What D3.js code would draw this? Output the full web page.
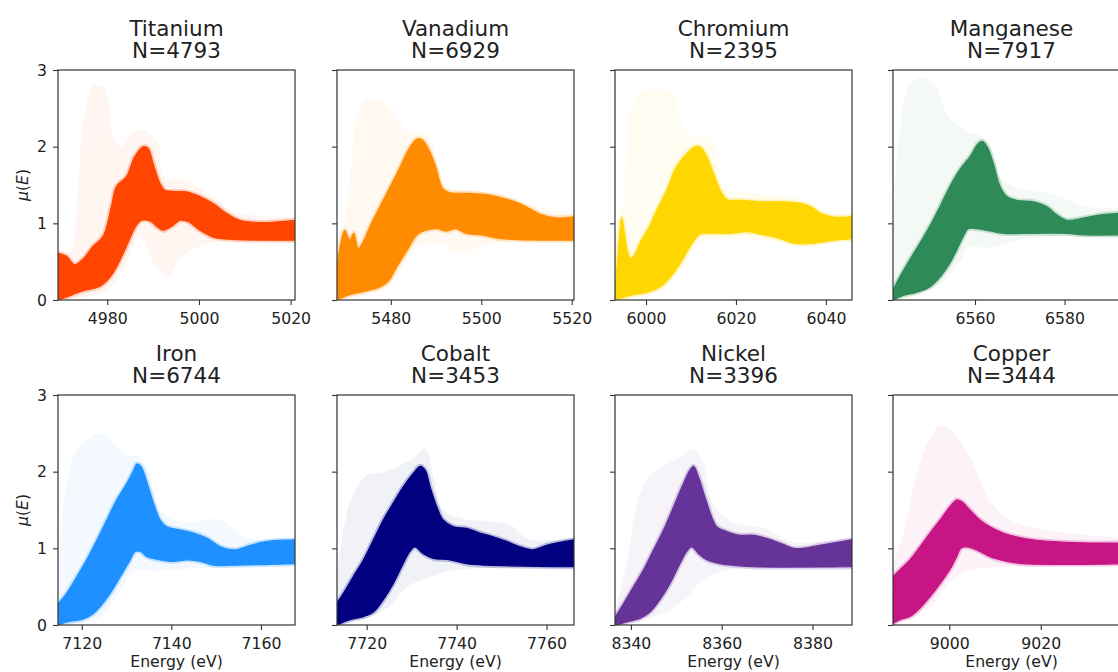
<!DOCTYPE html>
<html>
<head>
<meta charset="utf-8">
<script src="https://cdn.jsdelivr.net/npm/d3@7"></script>
<style>
  body { margin: 0; background: #fff; }
  svg { display: block; }
  text { font-family: "DejaVu Sans", sans-serif; fill: #222; }
</style>
</head>
<body>
<script>
// ---------------- DATA ----------------
const elements = ["Titanium", "Vanadium", "Chromium", "Manganese", "Iron", "Cobalt", "Nickel", "Copper"];
const counts = [4793, 6929, 2395, 7917, 6744, 3453, 3396, 3444];
const colors = ["#FF4500", "#FF8C00", "#FFD700", "#2E8B57", "#1E90FF", "#000080", "#663399", "#C71585"];
const xDomains = [[4969.25, 5020.95], [5468.1, 5520.5], [5993.1, 6045.8], [6541.7, 6594.6],
                  [7114.7, 7167.6], [7713.4, 7766.1], [8336.5, 8388.7], [8987.7, 9039.5]];
const xTicks = [[4980, 5000, 5020], [5480, 5500, 5520], [6000, 6020, 6040], [6560, 6580],
                [7120, 7140, 7160], [7720, 7740, 7760], [8340, 8360, 8380], [9000, 9020]];
const yTicks = [0, 1, 2, 3];

// dense core of the spectra: upper / lower edge  [energy (eV), mu(E)]
const titaniumUpper = [[4969.3,0.61],[4971.1,0.57],[4972.9,0.46],[4974.8,0.54],[4976.9,0.70],[4979.1,0.83],[4980.9,1.22],[4982.0,1.48],[4984.2,1.61],[4986.0,1.87],[4987.9,2.0],[4988.9,1.98],[4990.0,1.78],[4991.5,1.52],[4992.6,1.43],[4997.3,1.41],[5000.2,1.35],[5003.1,1.26],[5006.0,1.13],[5008.9,1.04],[5013.3,1.01],[5021,1.04]];
const titaniumLower = [[4969.3,0],[4971.1,0.04],[4974.8,0.12],[4978.4,0.18],[4980.6,0.30],[4982.0,0.43],[4983.5,0.61],[4984.9,0.80],[4986.4,0.98],[4987.5,1.04],[4989.3,1.03],[4990.8,0.96],[4992.2,0.91],[4994.0,0.96],[4995.9,1.04],[4997.7,1.02],[5000.2,0.91],[5003.1,0.82],[5007.5,0.79],[5021,0.78]];
const vanadiumUpper = [[5467.9,0.35],[5468.8,0.70],[5469.8,0.91],[5470.9,0.78],[5471.8,0.87],[5472.8,0.67],[5473.9,0.76],[5475.4,0.96],[5477.6,1.22],[5479.9,1.48],[5482.1,1.74],[5484.3,2.0],[5485.8,2.10],[5486.9,2.09],[5488.4,1.96],[5489.9,1.74],[5491.4,1.46],[5492.9,1.40],[5497.0,1.39],[5501.5,1.37],[5504.5,1.33],[5507.5,1.28],[5510.4,1.20],[5513.4,1.11],[5516.4,1.07],[5521,1.09]];
const vanadiumLower = [[5467.9,0],[5470.9,0.07],[5474.6,0.12],[5477.6,0.17],[5479.5,0.25],[5481.3,0.43],[5483.6,0.65],[5485.8,0.85],[5487.7,0.91],[5490.3,0.93],[5492.2,0.90],[5494.4,0.93],[5496.6,0.87],[5500.0,0.85],[5504.5,0.80],[5521,0.78]];
const chromiumUpper = [[5993.1,0.09],[5993.8,0.61],[5994.6,1.07],[5995.2,0.87],[5995.8,0.65],[5996.6,0.54],[5997.5,0.59],[5998.8,0.76],[6000.5,0.93],[6002.4,1.17],[6004.6,1.43],[6006.8,1.74],[6009.1,1.91],[6010.9,2.0],[6012.2,1.99],[6013.5,1.87],[6015.0,1.65],[6016.5,1.43],[6018.0,1.31],[6021.0,1.30],[6025.4,1.28],[6029.9,1.28],[6034.3,1.26],[6036.6,1.22],[6038.8,1.13],[6041.8,1.08],[6046,1.09]];
const chromiumLower = [[5993.1,0],[5996.4,0.06],[6000.1,0.10],[6003.1,0.17],[6005.4,0.30],[6007.6,0.48],[6009.8,0.70],[6012.0,0.86],[6015.0,0.87],[6018.7,0.87],[6022.5,0.89],[6026.2,0.85],[6029.9,0.80],[6032.9,0.74],[6037.3,0.74],[6041.8,0.78],[6046,0.80]];
const manganeseUpper = [[6541.7,0.13],[6543.2,0.30],[6545.4,0.52],[6547.7,0.74],[6549.9,0.96],[6552.2,1.22],[6554.4,1.48],[6556.6,1.70],[6558.9,1.87],[6560.7,2.04],[6561.6,2.07],[6562.8,1.99],[6564.1,1.78],[6565.6,1.48],[6567.1,1.35],[6569.3,1.30],[6573.1,1.28],[6576.0,1.22],[6578.3,1.11],[6580.5,1.04],[6584.3,1.07],[6588.0,1.11],[6594.7,1.14]];
const manganeseLower = [[6541.7,0],[6544.0,0.06],[6546.9,0.10],[6549.9,0.17],[6552.2,0.30],[6554.4,0.48],[6555.9,0.65],[6557.4,0.83],[6558.5,0.93],[6560.4,0.93],[6563.4,0.90],[6566.3,0.87],[6573.1,0.87],[6580.5,0.87],[6584.3,0.85],[6594.7,0.85]];
const ironUpper = [[7114.8,0.28],[7116.6,0.41],[7118.9,0.63],[7121.1,0.85],[7123.4,1.11],[7125.6,1.37],[7127.8,1.63],[7130.1,1.85],[7131.6,2.02],[7132.3,2.10],[7133.2,2.07],[7134.6,1.85],[7136.0,1.59],[7137.5,1.37],[7139.0,1.28],[7142.0,1.24],[7145.0,1.20],[7148.0,1.13],[7151.0,1.02],[7154.0,0.98],[7157.7,1.04],[7161.4,1.09],[7167.8,1.11]];
const ironLower = [[7114.8,0],[7116.6,0.04],[7120.4,0.08],[7122.6,0.15],[7124.1,0.24],[7126.3,0.41],[7128.6,0.63],[7130.8,0.85],[7131.9,0.96],[7133.1,0.96],[7134.6,0.89],[7137.5,0.85],[7140.5,0.83],[7143.5,0.85],[7146.5,0.83],[7149.5,0.78],[7154.0,0.78],[7167.8,0.80]];
const cobaltUpper = [[7713.3,0.28],[7714.8,0.41],[7717.0,0.63],[7719.3,0.85],[7721.5,1.11],[7723.7,1.37],[7725.9,1.59],[7728.1,1.80],[7730.4,1.98],[7731.9,2.07],[7733.0,2.02],[7734.1,1.80],[7735.6,1.54],[7737.0,1.37],[7739.3,1.28],[7742.2,1.26],[7745.2,1.20],[7748.1,1.15],[7751.1,1.09],[7754.1,1.02],[7757.0,0.98],[7760.0,1.04],[7766.1,1.11]];
const cobaltLower = [[7713.3,0],[7716.3,0.07],[7719.3,0.11],[7721.5,0.17],[7723.7,0.33],[7725.9,0.54],[7728.1,0.80],[7729.6,0.96],[7730.7,1.02],[7732.6,0.93],[7734.8,0.87],[7738.5,0.85],[7742.2,0.80],[7746.7,0.78],[7766.1,0.76]];
const nickelUpper = [[8336.6,0.11],[8338.4,0.28],[8340.6,0.50],[8342.8,0.72],[8345.0,0.98],[8347.2,1.24],[8349.4,1.54],[8351.6,1.85],[8353.0,2.02],[8353.8,2.07],[8354.9,1.93],[8356.3,1.67],[8357.8,1.41],[8358.9,1.28],[8361.1,1.22],[8364.0,1.17],[8367.0,1.17],[8369.9,1.13],[8372.8,1.07],[8375.8,1.00],[8377.9,1.00],[8381.6,1.04],[8388.6,1.11]];
const nickelLower = [[8336.6,0],[8339.1,0.04],[8342.1,0.09],[8344.2,0.17],[8346.4,0.33],[8348.6,0.54],[8350.8,0.80],[8352.3,0.96],[8353.4,1.02],[8354.9,0.93],[8356.7,0.85],[8359.6,0.80],[8362.6,0.78],[8367.0,0.76],[8388.6,0.76]];
const copperUpper = [[8987.7,0.63],[8989.2,0.72],[8991.4,0.85],[8993.6,1.02],[8995.8,1.20],[8998.0,1.37],[9000.1,1.54],[9001.6,1.63],[9002.7,1.61],[9004.5,1.50],[9006.7,1.37],[9008.9,1.28],[9011.8,1.20],[9014.7,1.15],[9018.4,1.11],[9022.0,1.09],[9029.3,1.07],[9039.6,1.07]];
const copperLower = [[8987.7,0.02],[8989.2,0.07],[8991.4,0.11],[8993.6,0.22],[8995.8,0.37],[8998.0,0.54],[9000.1,0.72],[9001.6,0.89],[9002.5,1.0],[9003.8,1.02],[9006.0,0.98],[9008.9,0.89],[9012.6,0.83],[9016.2,0.80],[9039.6,0.80]];

// faint outer extent of the sparse spectra: top / bottom  [energy (eV), mu(E)]
const titaniumHaloTop = [[4969.3,0.65],[4972,0.62],[4973.5,1.4],[4975,2.4],[4977,2.8],[4979.5,2.75],[4981,2.2],[4983,2.0],[4986,2.2],[4988.5,2.2],[4991,2.05],[4992.5,1.6],[4997,1.55],[5003,1.35],[5008,1.15],[5021,1.08]];
const titaniumHaloBottom = [[4969.3,0],[4980,0.12],[4984,0.45],[4987,0.85],[4990,0.5],[4993,0.3],[4996,0.55],[5000,0.7],[5005,0.76],[5021,0.76]];
const vanadiumHaloTop = [[5467.9,0.4],[5469.8,1.0],[5471.5,1.9],[5472.5,2.4],[5474.6,2.6],[5477.6,2.6],[5480.6,2.45],[5483.6,2.2],[5485.8,2.2],[5488.1,2.15],[5490,1.85],[5491.5,1.5],[5500,1.42],[5505,1.38],[5510,1.25],[5521,1.12]];
const vanadiumHaloBottom = [[5467.9,0],[5478,0.12],[5482,0.35],[5485,0.65],[5490,0.75],[5496,0.6],[5500,0.7],[5505,0.76],[5521,0.76]];
const chromiumHaloTop = [[5993.1,0.9],[5994.6,1.2],[5995.8,2.0],[5996.6,2.5],[5998.7,2.7],[6002.4,2.75],[6006,2.7],[6008,2.3],[6010,2.15],[6013,2.15],[6015.5,2.05],[6017.2,1.5],[6025,1.38],[6034,1.35],[6040,1.15],[6046,1.12]];
const chromiumHaloBottom = [[5993.1,0],[6003,0.12],[6008,0.4],[6012,0.75],[6020,0.8],[6030,0.75],[6046,0.76]];
const manganeseHaloTop = [[6541.7,0.9],[6543.2,2.2],[6545.4,2.8],[6548,2.9],[6551,2.8],[6554,2.4],[6558,2.2],[6561,2.15],[6563.5,2.0],[6565.6,1.6],[6570,1.45],[6576,1.4],[6580,1.32],[6585,1.22],[6594.7,1.2]];
const manganeseHaloBottom = [[6541.7,0],[6552,0.2],[6556,0.45],[6559,0.7],[6562,0.68],[6566,0.72],[6572,0.8],[6594.7,0.82]];
const ironHaloTop = [[7114.8,0.8],[7116.5,1.8],[7119,2.3],[7122,2.45],[7125,2.5],[7128,2.3],[7131,2.2],[7133,2.2],[7135,2.0],[7137.5,1.5],[7142,1.35],[7146,1.35],[7150,1.38],[7153,1.3],[7156,1.15],[7167.8,1.13]];
const ironHaloBottom = [[7114.8,0],[7124,0.1],[7128,0.4],[7132,0.72],[7136,0.7],[7140,0.72],[7150,0.75],[7167.8,0.78]];
const cobaltHaloTop = [[7713.3,0.6],[7715,1.3],[7717,1.7],[7720,1.95],[7724,2.0],[7728,2.1],[7731,2.2],[7733,2.3],[7735,1.9],[7737,1.5],[7742,1.38],[7748,1.35],[7752,1.3],[7756,1.12],[7766.1,1.14]];
const cobaltHaloBottom = [[7713.3,0],[7724,0.2],[7729,0.5],[7733,0.6],[7738,0.7],[7745,0.74],[7766.1,0.74]];
const nickelHaloTop = [[8336.6,0.2],[8339,0.8],[8342,1.7],[8345,2.0],[8348,2.1],[8351,2.2],[8354,2.3],[8356,2.1],[8358,1.6],[8362,1.35],[8370,1.25],[8376,1.08],[8388.6,1.14]];
const nickelHaloBottom = [[8336.6,0],[8347,0.15],[8352,0.35],[8356,0.6],[8362,0.72],[8388.6,0.74]];
const copperHaloTop = [[8987.7,0.8],[8990,1.2],[8993,2.0],[8995.5,2.4],[8998,2.6],[9001,2.5],[9003.5,2.3],[9006,2.0],[9009,1.6],[9014,1.35],[9020,1.25],[9039.6,1.12]];
const copperHaloBottom = [[8987.7,0],[8996,0.25],[9000,0.55],[9004,0.7],[9010,0.76],[9039.6,0.78]];

const coreUpper = [titaniumUpper, vanadiumUpper, chromiumUpper, manganeseUpper, ironUpper, cobaltUpper, nickelUpper, copperUpper];
const coreLower = [titaniumLower, vanadiumLower, chromiumLower, manganeseLower, ironLower, cobaltLower, nickelLower, copperLower];
const haloTop = [titaniumHaloTop, vanadiumHaloTop, chromiumHaloTop, manganeseHaloTop, ironHaloTop, cobaltHaloTop, nickelHaloTop, copperHaloTop];
const haloBottom = [titaniumHaloBottom, vanadiumHaloBottom, chromiumHaloBottom, manganeseHaloBottom, ironHaloBottom, cobaltHaloBottom, nickelHaloBottom, copperHaloBottom];

// ---------------- LAYOUT ----------------
const W = 1118, H = 672;
const panelW = 237, panelH = 230;
const colLeft = [58, 337, 615, 893];
const rowTop = [70, 395];
const tickFont = 15.7, titleFont = 21.5;

const svg = d3.select("body").append("svg").attr("width", W).attr("height", H);
const defs = svg.append("defs");

function bandPath(line, top, bottom) {
  const a = line(top);
  const b = line(bottom.slice().reverse());
  return a + "L" + b.slice(1) + "Z";
}

elements.forEach((name, i) => {
  const col = i % 4, row = Math.floor(i / 4);
  const left = colLeft[col], top = rowTop[row];
  const x = d3.scaleLinear().domain(xDomains[i]).range([left, left + panelW]);
  const y = d3.scaleLinear().domain([0, 3]).range([top + panelH, top]);
  const color = colors[i];

  defs.append("clipPath").attr("id", "clip" + i)
    .append("rect").attr("x", left).attr("y", top).attr("width", panelW).attr("height", panelH);

  const g = svg.append("g");
  const plot = g.append("g").attr("clip-path", `url(#clip${i})`);
  const line = d3.line().x(d => x(d[0])).y(d => y(d[1])).curve(d3.curveCatmullRom.alpha(0.5));

  // faint outer spectra
  plot.append("path")
    .attr("d", bandPath(line, haloTop[i], haloBottom[i]))
    .attr("fill", color).attr("fill-opacity", 0.055).attr("stroke", "none");
  // semi-dense fringe
  plot.append("path")
    .attr("d", bandPath(line, coreUpper[i], coreLower[i]))
    .attr("fill", "none").attr("stroke", color).attr("stroke-opacity", 0.22)
    .attr("stroke-width", 5).attr("stroke-linejoin", "round");
  // dense core
  plot.append("path")
    .attr("d", bandPath(line, coreUpper[i], coreLower[i]))
    .attr("fill", color).attr("stroke", color).attr("stroke-width", 1.2).attr("stroke-linejoin", "round");

  // axes
  const xAxis = g.append("g").attr("transform", `translate(0,${top + panelH})`)
    .call(d3.axisBottom(x).tickValues(xTicks[i]).tickSize(5).tickPadding(8).tickFormat(d3.format("d")));
  const yAxis = g.append("g").attr("transform", `translate(${left},0)`)
    .call(d3.axisLeft(y).tickValues(yTicks).tickSize(5).tickPadding(6).tickFormat(col === 0 ? d3.format("d") : () => ""));
  [xAxis, yAxis].forEach(a => {
    a.select(".domain").remove();
    a.selectAll(".tick line").attr("stroke", "#333").attr("stroke-width", 1.1);
    a.selectAll(".tick text").attr("font-size", tickFont).attr("font-family", "DejaVu Sans").attr("fill", "#222");
  });

  // frame
  g.append("rect").attr("x", left).attr("y", top).attr("width", panelW).attr("height", panelH)
    .attr("fill", "none").attr("stroke", "#333").attr("stroke-width", 1.2);

  // titles
  const cx = left + panelW / 2;
  g.append("text").attr("x", cx).attr("y", top - 34.3).attr("text-anchor", "middle")
    .attr("font-size", titleFont).text(name);
  g.append("text").attr("x", cx).attr("y", top - 11.7).attr("text-anchor", "middle")
    .attr("font-size", titleFont).text("N=" + counts[i]);

  if (col === 0) {
    const t = g.append("text").attr("transform", `translate(28,${top + panelH / 2}) rotate(-90)`)
      .attr("text-anchor", "middle").attr("font-size", tickFont);
    t.append("tspan").attr("font-style", "italic").text("μ");
    t.append("tspan").text("(");
    t.append("tspan").attr("font-style", "italic").text("E");
    t.append("tspan").text(")");
  }
  if (row === 1) {
    g.append("text").attr("x", cx).attr("y", 666.5).attr("text-anchor", "middle")
      .attr("font-size", tickFont).text("Energy (eV)");
  }
});
</script>
</body>
</html>
